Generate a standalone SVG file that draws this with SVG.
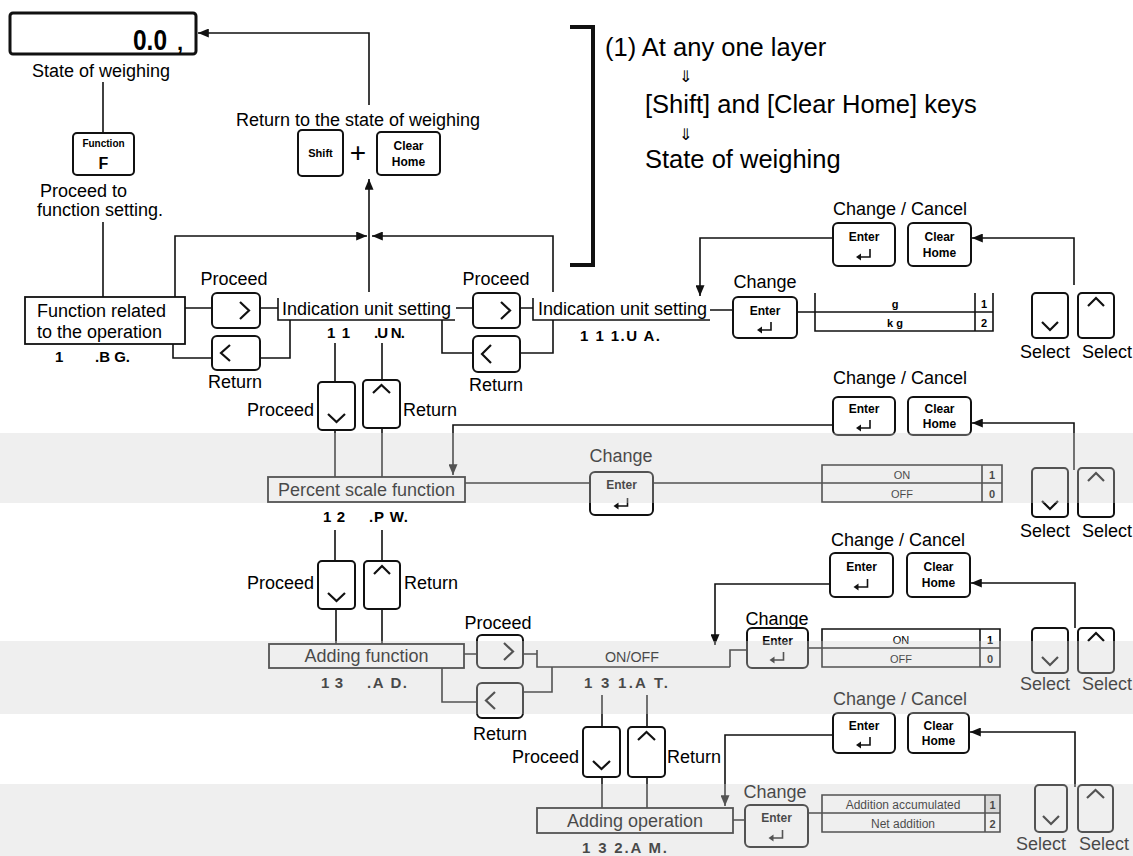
<svg xmlns="http://www.w3.org/2000/svg" width="1133" height="856" viewBox="0 0 1133 856">
<defs>
<style>
text{font-family:"Liberation Sans",Arial,sans-serif;fill:#000}
.lb{font-size:18px}
.big{font-size:25.5px}
.c{text-anchor:middle}
.kt{font-size:12px;font-weight:bold;text-anchor:middle}
.cd{font-size:15px;font-weight:bold}
.tb{font-size:11px;text-anchor:middle}
.tn{font-size:11px;font-weight:bold;text-anchor:middle}
.key{fill:none;stroke:#111;stroke-width:2}
.box{fill:none;stroke:#111;stroke-width:1.8}
.ln{fill:none;stroke:#111;stroke-width:1.6}
.ch{fill:none;stroke:#111;stroke-width:2.2}
.arr{marker-end:url(#ah)}
.dn{font-family:"DejaVu Sans",sans-serif;font-size:16px}
</style>
<marker id="ah" viewBox="0 0 12 10" refX="12" refY="5" markerWidth="12" markerHeight="9" markerUnits="userSpaceOnUse" orient="auto"><path d="M0,0 L12,5 L0,10 z" fill="#111"/></marker>
<g id="ret"><path d="M6,-8 V0 H-4" fill="none" stroke="#111" stroke-width="1.6"/><path d="M-8,0 L-3,-3.5 L-3,3.5 z" fill="#111"/></g>
</defs>
<rect width="1133" height="856" fill="#fff"/>
<g id="bands">
<rect x="0" y="433" width="1133" height="70" fill="#efefef"/>
<rect x="0" y="641" width="1133" height="73" fill="#efefef"/>
<rect x="0" y="784" width="1133" height="72" fill="#efefef"/>
</g>
<g id="connectors">
<path class="ln arr" d="M369,105 V33 H198"/>
<path class="ln arr" d="M369,292 V179"/>
<path class="ln arr" d="M175,297 V236 H367"/>
<path class="ln arr" d="M553,292 V236 H372"/>
<path class="ln" d="M103,82 V133"/>
<path class="ln" d="M103,222 V297"/>
<path class="ln" d="M185,308 H212 M260,308 H278"/>
<path class="ln" d="M173,344 V358 H212 M260,358 H290 V320"/>
<path class="ln" d="M456,308 H473 M520,308 H533"/>
<path class="ln" d="M442,320 V353 H473 M520,353 H553 V320"/>
<path class="ln" d="M710,310 H733 M797,312 H815"/>
<path class="ln arr" d="M833,238 H700 V296"/>
<path class="ln arr" d="M1074,285 V238 H972"/>
<path class="ln" d="M335,343 V382 M382,343 V380"/>
<path class="ln" d="M335,430 V477 M382,428 V477 M335,530 V561 M382,530 V561"/>
<path class="ln" d="M465,483 H590 M653,483 H822"/>
<path class="ln arr" d="M833,425 H453 V475"/>
<path class="ln arr" d="M1074,470 V423 H972"/>
<path class="ln" d="M336,609 V644 M382,609 V644"/>
<path class="ln" d="M464,654 H477 M523,654 H537"/>
<path class="ln" d="M442,668 V702 H477 M523,692 H552 V667"/>
<path class="ln" d="M602,695 V727 M647,695 V727"/>
<path class="ln arr" d="M830,584 H715 V645"/>
<path class="ln" d="M730,667 V650 H747 M808,648 H822"/>
<path class="ln arr" d="M1075,628 V583 H971"/>
<path class="ln" d="M602,777 V808 M647,777 V808"/>
<path class="ln arr" d="M833,735 H725 V806"/>
<path class="ln" d="M733,820 H745 M808,813 H822"/>
<path class="ln arr" d="M1075,787 V732 H970"/>
</g>
<g id="display">
<rect x="10" y="13" width="186" height="41" rx="3" fill="none" stroke="#111" stroke-width="3"/>
<text x="133" y="50" font-size="30" font-weight="bold" textLength="34" lengthAdjust="spacingAndGlyphs">0.0</text>
<text x="177" y="50" font-size="22" font-weight="bold">,</text>
<text class="lb" x="32" y="77">State of weighing</text>
</g>
<g id="function-key">
<rect class="key" x="73" y="133" width="61" height="42" rx="4"/>
<text class="kt" x="103.5" y="147" style="font-size:10px">Function</text>
<text class="kt" x="103.5" y="169" style="font-size:16px">F</text>
<text class="lb" x="40" y="197">Proceed to</text>
<text class="lb" x="37" y="216">function setting.</text>
</g>
<g id="shift-clear">
<text class="lb c" x="358" y="126">Return to the state of weighing</text>
<rect class="key" x="298" y="130" width="45" height="46" rx="4"/>
<text class="kt" x="320.5" y="157" style="font-size:11px">Shift</text>
<text class="c" x="358" y="162" style="font-size:28px">+</text>
<rect class="key" x="377" y="132" width="63" height="43" rx="4"/>
<text class="kt" x="408.5" y="150">Clear</text>
<text class="kt" x="408.5" y="166">Home</text>
</g>
<g id="note">
<path d="M570,27 H593 V265 H570" fill="none" stroke="#111" stroke-width="4"/>
<text class="big" x="605" y="56">(1) At any one layer</text>
<text class="dn" x="679" y="82">⇓</text>
<text class="big" x="645" y="113">[Shift] and [Clear Home] keys</text>
<text class="dn" x="679" y="140">⇓</text>
<text class="big" x="645" y="168">State of weighing</text>
</g>
<g id="func-related">
<rect class="box" x="25" y="297" width="160" height="47"/>
<text class="lb" x="37" y="317">Function related</text>
<text class="lb" x="37" y="338">to the operation</text>
<text class="cd" x="55" y="362">1</text>
<text class="cd" x="95" y="362" textLength="35">.B G.</text>
</g>
<g id="proceed-1">
<text class="lb c" x="234" y="285">Proceed</text>
<rect class="key" x="212" y="293" width="48" height="35" rx="5"/>
<polyline class="ch" points="240,302 249,310.5 240,319"/>
</g>
<g id="return-1">
<rect class="key" x="212" y="336" width="48" height="34" rx="5"/>
<polyline class="ch" points="230,345 221,353 230,361"/>
<text class="lb c" x="235" y="388">Return</text>
</g>
<g id="unit-11">
<path class="ln" d="M278,298 V320 H455"/>
<text class="lb" x="282" y="315">Indication unit setting</text>
<text class="cd" x="327" y="338" textLength="23">1 1</text>
<text class="cd" x="374" y="338" textLength="31">.U N.</text>
</g>
<g id="proceed-2">
<text class="lb c" x="496" y="285">Proceed</text>
<rect class="key" x="473" y="293" width="47" height="35" rx="5"/>
<polyline class="ch" points="501,302 510,310.5 501,319"/>
</g>
<g id="return-2">
<rect class="key" x="473" y="336" width="47" height="36" rx="5"/>
<polyline class="ch" points="491,345 482,354 491,363"/>
<text class="lb c" x="496" y="391">Return</text>
</g>
<g id="unit-111">
<path class="ln" d="M533,298 V320 H710"/>
<text class="lb" x="538" y="315">Indication unit setting</text>
<text class="cd" x="580" y="341" textLength="80">1 1 1.U A.</text>
</g>
<g id="change-1">
<text class="lb c" x="765" y="288">Change</text>
<rect class="key" x="733" y="297" width="64" height="41" rx="5"/>
<text class="kt" x="765" y="315">Enter</text>
<use href="#ret" x="765" y="330"/>
</g>
<g id="table-1">
<path class="ln" d="M815,293 V331 H993 V293 M975,293 V331 M815,312 H993"/>
<text class="tn" x="895" y="308">g</text>
<text class="tn" x="895" y="327">k g</text>
<text class="tn" x="984" y="308">1</text>
<text class="tn" x="984" y="327">2</text>
</g>
<g id="cc-1">
<text class="lb c" x="900" y="215">Change / Cancel</text>
<rect class="key" x="833" y="223" width="62" height="43" rx="5"/>
<text class="kt" x="864" y="241">Enter</text>
<use href="#ret" x="864" y="257"/>
<rect class="key" x="908" y="223" width="63" height="43" rx="5"/>
<text class="kt" x="939.5" y="241">Clear</text>
<text class="kt" x="939.5" y="257">Home</text>
</g>
<g id="select-1">
<rect class="key" x="1032" y="293" width="36" height="45" rx="4"/>
<polyline class="ch" points="1042,322 1050,330 1058,322"/>
<rect class="key" x="1078" y="293" width="36" height="45" rx="4"/>
<polyline class="ch" points="1088,306 1096,298 1104,306"/>
<text class="lb c" x="1045" y="358">Select</text>
<text class="lb" x="1082" y="358">Select</text>
</g>
<g id="nav-2">
<text class="lb" x="314" y="416" text-anchor="end">Proceed</text>
<rect class="key" x="318" y="382" width="37" height="48" rx="4"/>
<polyline class="ch" points="328,414 336.5,422 345,414"/>
<rect class="key" x="363" y="380" width="37" height="48" rx="4"/>
<polyline class="ch" points="373,393 381.5,385 390,393"/>
<text class="lb" x="403" y="416">Return</text>
</g>
<g id="percent-12">
<rect class="box" x="268" y="477" width="197" height="25"/>
<text class="lb c" x="366.5" y="496">Percent scale function</text>
<text class="cd" x="323" y="522" textLength="22">1 2</text>
<text class="cd" x="369" y="522" textLength="39">.P W.</text>
</g>
<g id="change-2">
<text class="lb c" x="621" y="462">Change</text>
<rect class="key" x="590" y="472" width="63" height="43" rx="5"/>
<text class="kt" x="621.5" y="489">Enter</text>
<use href="#ret" x="621.5" y="506"/>
</g>
<g id="table-2">
<path class="ln" d="M822,465 H1002 V502 H822 Z M982,465 V502 M822,483 H1002"/>
<text class="tb" x="902" y="479">ON</text>
<text class="tb" x="902" y="498">OFF</text>
<text class="tn" x="992" y="479">1</text>
<text class="tn" x="992" y="498">0</text>
</g>
<g id="cc-2">
<text class="lb c" x="900" y="384">Change / Cancel</text>
<rect class="key" x="833" y="397" width="62" height="38" rx="5"/>
<text class="kt" x="864" y="413">Enter</text>
<use href="#ret" x="864" y="428"/>
<rect class="key" x="908" y="397" width="63" height="38" rx="5"/>
<text class="kt" x="939.5" y="413">Clear</text>
<text class="kt" x="939.5" y="428">Home</text>
</g>
<g id="select-2">
<rect class="key" x="1032" y="468" width="36" height="49" rx="4"/>
<polyline class="ch" points="1042,501 1050,509 1058,501"/>
<rect class="key" x="1078" y="468" width="36" height="49" rx="4"/>
<polyline class="ch" points="1088,481 1096,473 1104,481"/>
<text class="lb c" x="1045" y="537">Select</text>
<text class="lb" x="1082" y="537">Select</text>
</g>
<g id="nav-3">
<text class="lb" x="314" y="589" text-anchor="end">Proceed</text>
<rect class="key" x="318" y="561" width="37" height="48" rx="4"/>
<polyline class="ch" points="328,593 336.5,601 345,593"/>
<rect class="key" x="364" y="561" width="36" height="48" rx="4"/>
<polyline class="ch" points="374,574 382,566 390,574"/>
<text class="lb" x="404" y="589">Return</text>
</g>
<g id="adding-13">
<rect class="box" x="269" y="644" width="195" height="24"/>
<text class="lb c" x="366.5" y="662">Adding function</text>
<text class="cd" x="321" y="688" textLength="22">1 3</text>
<text class="cd" x="367" y="688" textLength="40">.A D.</text>
</g>
<g id="proceed-3">
<text class="lb c" x="498" y="629">Proceed</text>
<rect class="key" x="477" y="635" width="46" height="33" rx="5"/>
<polyline class="ch" points="504,643 513,651.5 504,660"/>
</g>
<g id="return-3">
<rect class="key" x="477" y="683" width="46" height="35" rx="5"/>
<polyline class="ch" points="495,692 486,700.5 495,709"/>
<text class="lb c" x="500" y="740">Return</text>
</g>
<g id="onoff-131">
<path class="ln" d="M537,650 V667 H730"/>
<text class="c" x="632" y="662" style="font-size:14px" textLength="54" lengthAdjust="spacingAndGlyphs">ON/OFF</text>
<text class="cd" x="584" y="688" textLength="84">1 3 1.A T.</text>
</g>
<g id="change-3">
<text class="lb c" x="777" y="625">Change</text>
<rect class="key" x="747" y="628" width="61" height="40" rx="5"/>
<text class="kt" x="777.5" y="645">Enter</text>
<use href="#ret" x="777.5" y="660"/>
</g>
<g id="table-3">
<path class="ln" d="M822,629 H1000 V667 H822 Z M980,629 V667 M822,648 H1000"/>
<text class="tb" x="901" y="644">ON</text>
<text class="tb" x="901" y="663">OFF</text>
<text class="tn" x="990" y="644">1</text>
<text class="tn" x="990" y="663">0</text>
</g>
<g id="cc-3">
<text class="lb c" x="898" y="546">Change / Cancel</text>
<rect class="key" x="830" y="553" width="63" height="44" rx="5"/>
<text class="kt" x="861.5" y="571">Enter</text>
<use href="#ret" x="861.5" y="587"/>
<rect class="key" x="907" y="553" width="63" height="44" rx="5"/>
<text class="kt" x="938.5" y="571">Clear</text>
<text class="kt" x="938.5" y="587">Home</text>
</g>
<g id="select-3">
<rect class="key" x="1032" y="628" width="36" height="45" rx="4"/>
<polyline class="ch" points="1042,657 1050,665 1058,657"/>
<rect class="key" x="1078" y="628" width="36" height="45" rx="4"/>
<polyline class="ch" points="1088,641 1096,633 1104,641"/>
<text class="lb c" x="1045" y="690">Select</text>
<text class="lb" x="1082" y="690">Select</text>
</g>
<g id="nav-4">
<text class="lb" x="579" y="763" text-anchor="end">Proceed</text>
<rect class="key" x="583" y="727" width="37" height="50" rx="4"/>
<polyline class="ch" points="593,761 601.5,769 610,761"/>
<rect class="key" x="628" y="727" width="37" height="50" rx="4"/>
<polyline class="ch" points="638,740 646.5,732 655,740"/>
<text class="lb" x="667" y="763">Return</text>
</g>
<g id="adding-132">
<rect class="box" x="537" y="808" width="196" height="25"/>
<text class="lb c" x="635" y="827">Adding operation</text>
<text class="cd" x="582" y="853" textLength="85">1 3 2.A M.</text>
</g>
<g id="change-4">
<text class="lb c" x="775" y="798">Change</text>
<rect class="key" x="745" y="805" width="63" height="42" rx="5"/>
<text class="kt" x="776.5" y="822">Enter</text>
<use href="#ret" x="776.5" y="838"/>
</g>
<g id="table-4">
<path class="ln" d="M822,795 H1000 V832 H822 Z M985,795 V832 M822,813 H1000"/>
<rect x="986" y="796" width="13" height="16" fill="#cfcfcf"/>
<text class="c" x="903" y="809" style="font-size:12px">Addition accumulated</text>
<text class="c" x="903" y="828" style="font-size:12px">Net addition</text>
<text class="tn" x="992.5" y="809">1</text>
<text class="tn" x="992.5" y="828">2</text>
</g>
<g id="cc-4">
<text class="lb c" x="900" y="705">Change / Cancel</text>
<rect class="key" x="833" y="713" width="62" height="40" rx="5"/>
<text class="kt" x="864" y="730">Enter</text>
<use href="#ret" x="864" y="745"/>
<rect class="key" x="908" y="713" width="61" height="40" rx="5"/>
<text class="kt" x="938.5" y="730">Clear</text>
<text class="kt" x="938.5" y="745">Home</text>
</g>
<g id="select-4">
<rect class="key" x="1035" y="785" width="32" height="47" rx="4"/>
<polyline class="ch" points="1043,816 1051,824 1059,816"/>
<rect class="key" x="1078" y="785" width="35" height="47" rx="4"/>
<polyline class="ch" points="1087,798 1095.5,790 1104,798"/>
<text class="lb c" x="1041" y="850">Select</text>
<text class="lb" x="1079" y="850">Select</text>
</g>
<g id="band-fade">
<rect x="0" y="433" width="1133" height="70" fill="#efefef" opacity="0.3"/>
<rect x="0" y="641" width="1133" height="73" fill="#efefef" opacity="0.3"/>
<rect x="0" y="784" width="1133" height="72" fill="#efefef" opacity="0.3"/>
</g>
</svg>
